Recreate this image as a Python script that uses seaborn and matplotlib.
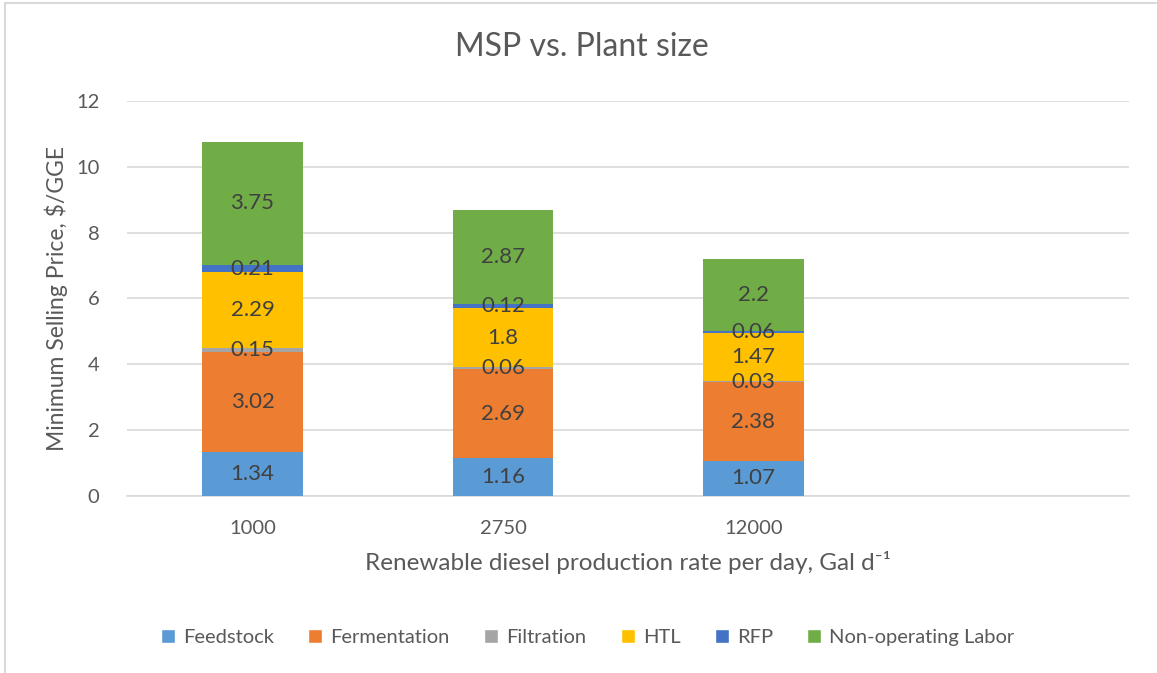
import pandas as pd
import numpy as np
from matplotlib import pyplot as plt
from matplotlib.lines import Line2D
from matplotlib.patches import Patch
import seaborn as sns

# chart values
plant_sizes = ["1000", "2750", "12000"]
slots = ["1000", "2750", "12000", ""]
components = ["Feedstock", "Fermentation", "Filtration", "HTL", "RFP", "Non-operating Labor"]
feedstock = [1.34, 1.16, 1.07]
fermentation = [3.02, 2.69, 2.38]
filtration = [0.15, 0.06, 0.03]
htl = [2.29, 1.8, 1.47]
rfp = [0.21, 0.12, 0.06]
labor = [3.75, 2.87, 2.2]
colors = ["#5B9BD5", "#ED7D31", "#A5A5A5", "#FFC000", "#4472C4", "#70AD47"]

df = pd.DataFrame({"size": plant_sizes, "Feedstock": feedstock, "Fermentation": fermentation,
                   "Filtration": filtration, "HTL": htl, "RFP": rfp,
                   "Non-operating Labor": labor})
# cumulative tops for stacking (draw tallest first, lower layers on top)
cum = df[components].cumsum(axis=1)

sns.set_style("white")
plt.rcParams['font.family'] = ['Lato', 'DejaVu Sans']
txt = "#595959"

fig = plt.figure(figsize=(11.57, 6.73), dpi=100)
ax = fig.add_axes([0.110, 0.263, 0.866, 0.587])

for i in reversed(range(len(components))):
    sns.barplot(x=df["size"], y=cum[components[i]], order=slots, color=colors[i],
                width=0.4, saturation=1, edgecolor="none", linewidth=0, ax=ax, zorder=3)

# segment labels
for j, s in enumerate(plant_sizes):
    base = 0
    for c in components:
        v = df.loc[j, c]
        ax.text(j, base + v / 2, f"{v:g}", ha="center", va="center",
                fontsize=16, color="#404040", zorder=5)
        base += v

ax.set_ylim(0, 12)
ax.set_yticks(np.arange(0, 13, 2))
ax.set_xlim(-0.5, 3.5)
ax.yaxis.grid(True, color="#D9D9D9", linewidth=1.2, zorder=0)
ax.set_axisbelow(True)
for sp in ["top", "right", "left"]:
    ax.spines[sp].set_visible(False)
ax.spines["bottom"].set_color("#D9D9D9")
ax.spines["bottom"].set_linewidth(1.2)
ax.tick_params(axis="both", length=0, labelsize=14.5, colors=txt)
ax.tick_params(axis="x", pad=17)
ax.tick_params(axis="y", pad=20)

# title is centred on the whole chart, not the plot area
fig.suptitle("MSP vs. Plant size", x=0.503, y=0.930, va="center", fontsize=23, color=txt)
ax.set_xlabel("Renewable diesel production rate per day, Gal d⁻¹", fontsize=17.5,
              color=txt, labelpad=10)
ax.set_ylabel("Minimum Selling Price, $/GGE", fontsize=16.5, color=txt, labelpad=6)

handles = [Patch(facecolor=colors[i], label=components[i]) for i in range(len(components))]
fig.legend(handles=handles, loc="center", bbox_to_anchor=(0.508, 0.053), ncol=6,
           frameon=False, fontsize=14.5, handlelength=0.7, handleheight=0.7,
           handletextpad=0.4, columnspacing=1.7, labelcolor=txt)

# chart border
fig.add_artist(Line2D([0.0045, 0.0045], [0, 0.995], color="#D9D9D9", linewidth=1.5))
fig.add_artist(Line2D([0.0045, 1], [0.995, 0.995], color="#D9D9D9", linewidth=1.5))

plt.savefig("out.png", dpi=100)
